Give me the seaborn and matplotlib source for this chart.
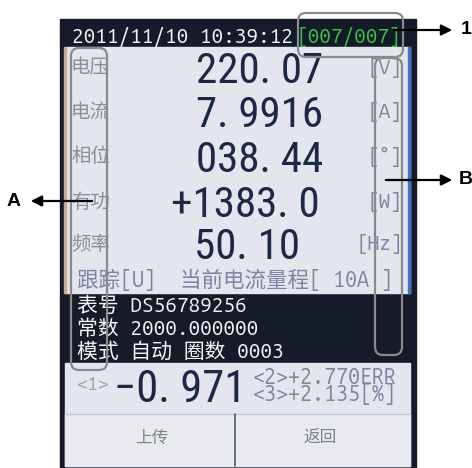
import matplotlib
matplotlib.use("Agg")
import matplotlib.pyplot as plt
import seaborn as sns
from matplotlib.patches import Rectangle, FancyBboxPatch

# values shown on the meter screen
timestamp = "2011/11/10 10:39:12"
page = "[007/007]"
labels = ["电压", "电流", "相位", "有功", "频率"]
readings = ["220. 07", "7. 9916", "038. 44", "+1383. 0", "50. 10"]
units = ["[V]", "[A]", "[°]", "[W]", "[Hz]"]
status = "跟踪[U]  当前电流量程[ 10A ]"
info = ["表号 DS56789256", "常数 2000.000000", "模式 自动 圈数 0003"]
err_main = "−0. 971"
err_side = ["<2>+2.770ERR", "<3>+2.135[%]"]
buttons = ["上传", "返回"]
callouts = ["1", "A", "B"]

# layout (pixels, y down)
row_y = [68, 112, 157, 202, 244]
reading_x = [196, 196, 196, 171, 194]
unit_x = [402, 402, 402, 402, 403]
info_y = [312, 335, 358]

sns.set_theme(style="white")
MONO = ["Ubuntu Mono", "DejaVu Sans Mono", "Noto Sans CJK SC"]
BIG = ["Roboto Condensed", "DejaVu Sans"]
CJK = ["Noto Sans CJK SC", "DejaVu Sans"]

dark = "#151b28"
panel = "#e3e6ec"
navy = "#1d2846"
grey = "#8b8f99"
bluegrey = "#7c84a2"

fig = plt.figure(figsize=(4.72, 4.68), dpi=100)
ax = fig.add_axes([0, 0, 1, 1])
ax.set_xlim(0, 472)
ax.set_ylim(468, 0)
ax.axis("off")
fig.patch.set_facecolor("white")

# screen body
ax.add_patch(Rectangle((60, 19), 356, 449, color=dark, zorder=1))
ax.add_patch(Rectangle((65, 47), 345, 246, color=panel, zorder=2))
ax.add_patch(Rectangle((64, 47), 2, 246, color="#c9a992", zorder=3))
ax.add_patch(Rectangle((408, 47), 2, 246, color="#3f6fd0", zorder=3))
ax.add_patch(Rectangle((65, 363), 345, 103, color=panel, zorder=2))
ax.add_patch(Rectangle((65, 414), 345, 52, color="#e8eaee", zorder=2))
ax.plot([65, 410], [414, 414], color="#c3c7cf", lw=1, zorder=3)
ax.plot([235, 235], [414, 466], color="#4c5474", lw=1.2, zorder=3)

# header
ax.text(72, 43, timestamp, family=MONO, fontsize=15, color="#f2f4f8", va="baseline", zorder=5)
ax.text(297, 43, page, family=MONO, fontsize=15, color="#3cc04a", va="baseline", zorder=5)

# measurement rows
for lab, val, unit, y, x, ux in zip(labels, readings, units, row_y, reading_x, unit_x):
    ax.text(71, y, lab, family=CJK, fontsize=14, color=grey, va="center", zorder=5)
    ax.text(x, y + 15, val, family=BIG, fontsize=31, color=navy, va="baseline", zorder=5)
    ax.text(ux, y, unit, family=MONO, fontsize=15, color=bluegrey, va="center", ha="right", zorder=5)

ax.text(77, 287, status, family=MONO, fontsize=15.5, color=bluegrey, va="baseline", zorder=5)

# info block on dark background
for line, yb in zip(info, info_y):
    ax.text(77, yb, line, family=MONO, fontsize=15, color="#f2f4f8", va="baseline", zorder=5)

# error readout (baseline of a multi-line text is its last line)
ax.text(77, 390, "<1>", family=MONO, fontsize=14, color="#9aa0b0", va="baseline", zorder=5)
ax.text(114, 402, err_main, family=BIG, fontsize=32, color=navy, va="baseline", zorder=5)
ax.text(253, 401, "\n".join(err_side), family=MONO, fontsize=15.5, color=bluegrey,
        va="baseline", linespacing=0.71, zorder=5)

for lab, cx in zip(buttons, [152, 320]):
    ax.text(cx, 438, lab, family=CJK, fontsize=12, color="#7a8092", ha="center", va="center", zorder=5)

# callout boxes
box_kw = dict(boxstyle="round,pad=0,rounding_size=8", fill=False, ec="#8a8a8a", lw=1.6, zorder=6)
ax.add_patch(FancyBboxPatch((298, 13), 105, 44, **box_kw))
ax.add_patch(FancyBboxPatch((71, 48), 36, 322, **box_kw))
ax.add_patch(FancyBboxPatch((375, 58), 27, 297, **box_kw))

arrow = dict(arrowstyle="-|>", color="black", lw=1.6, mutation_scale=16)
ax.annotate("", xy=(455, 30), xytext=(392, 30), arrowprops=arrow, zorder=7)
ax.annotate("", xy=(28, 201), xytext=(95, 201), arrowprops=arrow, zorder=7)
ax.annotate("", xy=(455, 180), xytext=(383, 180), arrowprops=arrow, zorder=7)
for t, x, y in zip(callouts, [466, 14, 466], [30, 201, 180]):
    ax.text(x, y, t, family=["Liberation Sans", "DejaVu Sans"], fontsize=14, fontweight="bold",
            color="black", ha="center", va="center", zorder=7)

fig.savefig("out.png", dpi=100)
